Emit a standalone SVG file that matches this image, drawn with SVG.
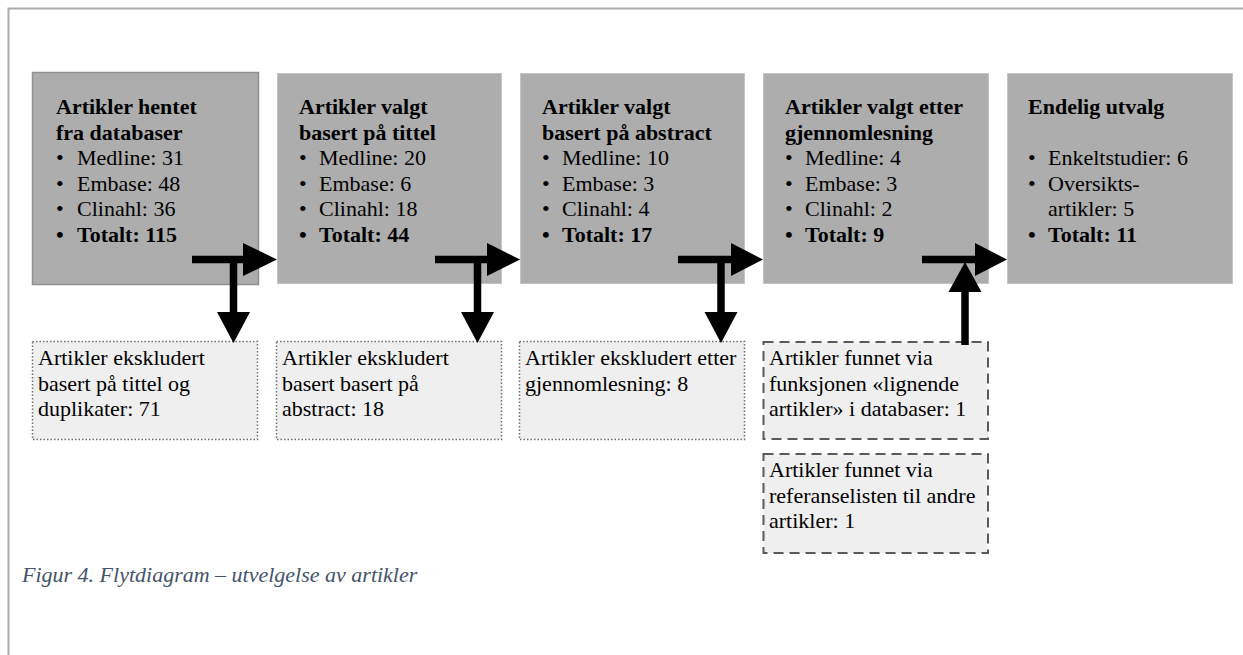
<svg xmlns="http://www.w3.org/2000/svg" width="1243" height="655" viewBox="0 0 1243 655">
<style>
.t{font-family:"Liberation Serif","Times New Roman",serif;font-size:22px;fill:#000}
.b{font-weight:bold}
.main{fill:#adadad;stroke:#c4c4c4;stroke-width:1}
.dot{fill:#efefef;stroke:#6e6e6e;stroke-width:1.5;stroke-dasharray:1.5,2}
.dash{fill:#efefef;stroke:#5a5a5a;stroke-width:2;stroke-dasharray:10,6}
.ln{stroke:#000;stroke-width:7.5;fill:none}
.cap{font-family:"Liberation Serif","Times New Roman",serif;font-size:22px;font-style:italic;fill:#44546a}
</style>
<rect width="1243" height="655" fill="#fff"/>
<path d="M8.5 655 V8.5 H1243" fill="none" stroke="#ababab" stroke-width="2"/>

<g id="n1">
<rect class="main" x="32.5" y="72.5" width="226" height="212" style="stroke:#909090;stroke-width:1.5"/>
<text class="t b" x="56" y="114">Artikler hentet</text>
<text class="t b" x="56" y="139.5">fra databaser</text>
<text class="t" x="56" y="165">•</text><text class="t" x="77" y="165">Medline: 31</text>
<text class="t" x="56" y="190.5">•</text><text class="t" x="77" y="190.5">Embase: 48</text>
<text class="t" x="56" y="216">•</text><text class="t" x="77" y="216">Clinahl: 36</text>
<text class="t b" x="56" y="241.5">•</text><text class="t b" x="77" y="241.5">Totalt: 115</text>
</g>

<g id="n2">
<rect class="main" x="277.5" y="73.5" width="224" height="210"/>
<text class="t b" x="299" y="114">Artikler valgt</text>
<text class="t b" x="299" y="139.5">basert på tittel</text>
<text class="t" x="299" y="165">•</text><text class="t" x="319" y="165">Medline: 20</text>
<text class="t" x="299" y="190.5">•</text><text class="t" x="319" y="190.5">Embase: 6</text>
<text class="t" x="299" y="216">•</text><text class="t" x="319" y="216">Clinahl: 18</text>
<text class="t b" x="299" y="241.5">•</text><text class="t b" x="319" y="241.5">Totalt: 44</text>
</g>

<g id="n3">
<rect class="main" x="520.5" y="73.5" width="224" height="210"/>
<text class="t b" x="542" y="114">Artikler valgt</text>
<text class="t b" x="542" y="139.5">basert på abstract</text>
<text class="t" x="542" y="165">•</text><text class="t" x="562" y="165">Medline: 10</text>
<text class="t" x="542" y="190.5">•</text><text class="t" x="562" y="190.5">Embase: 3</text>
<text class="t" x="542" y="216">•</text><text class="t" x="562" y="216">Clinahl: 4</text>
<text class="t b" x="542" y="241.5">•</text><text class="t b" x="562" y="241.5">Totalt: 17</text>
</g>

<g id="n4">
<rect class="main" x="763.5" y="73.5" width="225" height="210"/>
<text class="t b" x="785" y="114">Artikler valgt etter</text>
<text class="t b" x="785" y="139.5">gjennomlesning</text>
<text class="t" x="785" y="165">•</text><text class="t" x="805" y="165">Medline: 4</text>
<text class="t" x="785" y="190.5">•</text><text class="t" x="805" y="190.5">Embase: 3</text>
<text class="t" x="785" y="216">•</text><text class="t" x="805" y="216">Clinahl: 2</text>
<text class="t b" x="785" y="241.5">•</text><text class="t b" x="805" y="241.5">Totalt: 9</text>
</g>

<g id="n5">
<rect class="main" x="1007.5" y="73.5" width="225" height="210"/>
<text class="t b" x="1028" y="114">Endelig utvalg</text>
<text class="t" x="1028" y="165">•</text><text class="t" x="1048" y="165">Enkeltstudier: 6</text>
<text class="t" x="1028" y="190.5">•</text><text class="t" x="1048" y="190.5">Oversikts-</text>
<text class="t" x="1048" y="216">artikler: 5</text>
<text class="t b" x="1028" y="241.5">•</text><text class="t b" x="1048" y="241.5">Totalt: 11</text>
</g>

<g id="e1">
<rect class="dot" x="32.5" y="341.5" width="225" height="98"/>
<text class="t" x="38" y="365">Artikler ekskludert</text>
<text class="t" x="38" y="390.5">basert på tittel og</text>
<text class="t" x="38" y="416">duplikater: 71</text>
</g>

<g id="e2">
<rect class="dot" x="276.5" y="341.5" width="225" height="98"/>
<text class="t" x="282" y="365">Artikler ekskludert</text>
<text class="t" x="282" y="390.5">basert basert på</text>
<text class="t" x="282" y="416">abstract: 18</text>
</g>

<g id="e3">
<rect class="dot" x="519.5" y="341.5" width="225" height="98"/>
<text class="t" x="525" y="365">Artikler ekskludert etter</text>
<text class="t" x="525" y="390.5">gjennomlesning: 8</text>
</g>

<g id="a1">
<rect class="dash" x="763.5" y="342" width="224.5" height="97"/>
<text class="t" x="769" y="365">Artikler funnet via</text>
<text class="t" x="769" y="390.5">funksjonen «lignende</text>
<text class="t" x="769" y="416">artikler» i databaser: 1</text>
</g>

<g id="a2">
<rect class="dash" x="763.5" y="454" width="224.5" height="99"/>
<text class="t" x="769" y="477">Artikler funnet via</text>
<text class="t" x="769" y="502.5">referanselisten til andre</text>
<text class="t" x="769" y="528">artikler: 1</text>
</g>

<g id="connectors">
<path class="ln" d="M192 259.5 H244 M233.5 259.5 V313"/>
<polygon points="243,243 277,259.5 243,276"/>
<polygon points="217,312 250,312 233.5,343"/>
<path class="ln" d="M435 259.5 H488 M477.5 259.5 V313"/>
<polygon points="487,243 520,259.5 487,276"/>
<polygon points="461,312 494,312 477.5,343"/>
<path class="ln" d="M678 259.5 H732 M721 259.5 V313"/>
<polygon points="731,243 763,259.5 731,276"/>
<polygon points="704.5,312 737.5,312 721,343"/>
<path class="ln" d="M922 259.5 H976 M965 291 V345"/>
<polygon points="975,243 1007,259.5 975,276"/>
<polygon points="948.5,292 981.5,292 965,262"/>
</g>

<text class="cap" x="22" y="582">Figur 4. Flytdiagram – utvelgelse av artikler</text>
</svg>
